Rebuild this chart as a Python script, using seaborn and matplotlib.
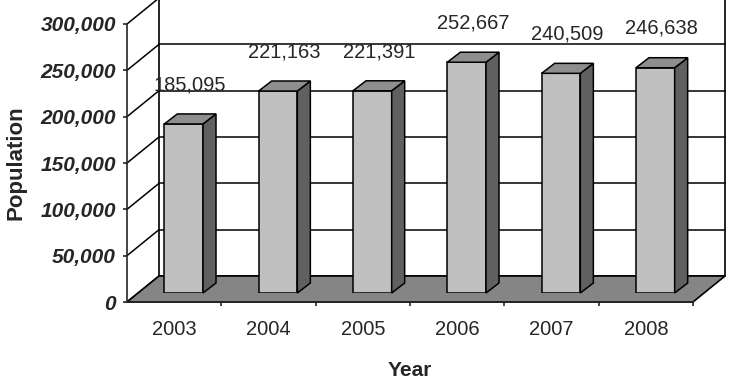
import numpy as np
import pandas as pd
import matplotlib
matplotlib.use("Agg")
import matplotlib.pyplot as plt
from matplotlib.patches import Polygon
import seaborn as sns

# data
years = ['2003', '2004', '2005', '2006', '2007', '2008']
population = [185095, 221163, 221391, 252667, 240509, 246638]
y_ticks = [0, 50000, 100000, 150000, 200000, 250000, 300000]

df = pd.DataFrame({'Year': years, 'Population': population})

sns.set_style('ticks')
plt.rcParams['font.family'] = ['Liberation Sans', 'DejaVu Sans']

W, H = 732, 384
fig = plt.figure(figsize=(W / 100, H / 100), dpi=100)

# front plane with the axes, pixel box x 127..693, y 24..302
ax = fig.add_axes([127 / W, 82 / H, 566 / W, 278 / H])
ax.set_xlim(-0.5, 5.5)
ax.set_ylim(0, 300000)
ax.patch.set_visible(False)

px_x = 6 / 566
px_y = 300000 / 278
dx, dy = 32 * px_x, 26 * px_y   # depth of the 3d box

# back wall + gridlines
ax.add_patch(Polygon([(-0.5 + dx, dy), (5.5 + dx, dy), (5.5 + dx, 300000 + dy), (-0.5 + dx, 300000 + dy)],
                     closed=True, facecolor='white', edgecolor='black', lw=1.2, clip_on=False, zorder=1))
for t in y_ticks[1:]:
    ax.plot([-0.5 + dx, 5.5 + dx], [t + dy, t + dy], color='black', lw=1.1, clip_on=False, zorder=2)
# left wall diagonals
for t in y_ticks:
    ax.plot([-0.5, -0.5 + dx], [t, t + dy], color='black', lw=1.1, clip_on=False, zorder=2)
# floor
ax.add_patch(Polygon([(-0.5, 0), (5.5, 0), (5.5 + dx, dy), (-0.5 + dx, dy)],
                     closed=True, facecolor='#858585', edgecolor='black', lw=1.2, clip_on=False, zorder=3))

for s in ['top', 'right']:
    ax.spines[s].set_visible(False)
for s in ['left', 'bottom']:
    ax.spines[s].set_linewidth(1.2)
    ax.spines[s].set_zorder(4)

ax.set_yticks(y_ticks, labels=[f'{t:,}' for t in y_ticks],
              fontweight='bold', fontstyle='italic', fontsize=15)
ax.tick_params(axis='y', length=3, width=1.2, pad=5)
ax.set_xticks(range(len(years)), labels=years, fontsize=14.5)
ax.set_xticks(np.arange(0.5, len(years), 1), minor=True)
ax.tick_params(axis='x', which='major', length=0, pad=13)
ax.tick_params(axis='x', which='minor', length=3, width=1.2)
ax.set_ylabel('Population', fontsize=16, fontweight='bold', labelpad=10)
ax.set_xlabel('Year', fontsize=15, fontweight='bold', labelpad=16)

# bars sit a bit behind the front plane
bx = fig.add_axes([(127 + 9.5) / W, (82 + 9) / H, 566 / W, 274 / H])
sns.barplot(data=df, x='Year', y='Population', color='#c0c0c0', width=0.41, saturation=1,
            edgecolor='black', linewidth=1.1, errorbar=None, ax=bx)
bx.set_xlim(-0.5, 5.5)
bx.set_ylim(0, 300000)
bx.axis('off')
bx.patch.set_visible(False)

sx = 13 * 6 / 566
sy = 10 * 300000 / 274
for p in list(bx.patches):
    x0, w, h = p.get_x(), p.get_width(), p.get_height()
    side = [(x0 + w, 0), (x0 + w + sx, sy), (x0 + w + sx, h + sy), (x0 + w, h)]
    top = [(x0, h), (x0 + w, h), (x0 + w + sx, h + sy), (x0 + sx, h + sy)]
    bx.add_patch(Polygon(side, closed=True, facecolor='#606060', edgecolor='black', lw=1.1, clip_on=False))
    bx.add_patch(Polygon(top, closed=True, facecolor='#8e8e8e', edgecolor='black', lw=1.1, clip_on=False))
    bx.text(x0 + w / 2 + sx / 2, h + 43000, f'{h:,.0f}', ha='center', va='center', fontsize=14.5)

fig.savefig('out.png', dpi=100)
